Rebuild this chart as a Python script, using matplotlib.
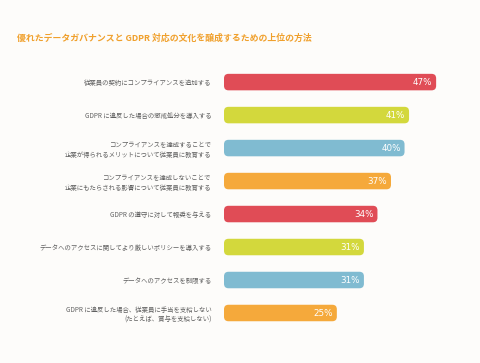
import matplotlib.pyplot as plt
from matplotlib.patches import FancyBboxPatch

plt.rcParams['font.family'] = ['Noto Sans CJK JP', 'DejaVu Sans']

title = "優れたデータガバナンスと GDPR 対応の文化を醸成するための上位の方法"

labels = [
    "従業員の契約にコンプライアンスを追加する",
    "GDPR に違反した場合の懲戒処分を導入する",
    "コンプライアンスを達成することで\n企業が得られるメリットについて従業員に教育する",
    "コンプライアンスを達成しないことで\n企業にもたらされる影響について従業員に教育する",
    "GDPR の遵守に対して報奨を与える",
    "データへのアクセスに関してより厳しいポリシーを導入する",
    "データへのアクセスを制限する",
    "GDPR に違反した場合、従業員に手当を支給しない\n(たとえば、賞与を支給しない)",
]
values = [47, 41, 40, 37, 34, 31, 31, 25]
colors = ["#e04c56", "#d3d83c", "#80bbd1", "#f5a93b"] * 2

fig = plt.figure(figsize=(4.81, 3.63), dpi=100)
fig.patch.set_facecolor("#fdfcfa")
ax = fig.add_axes([0.4657, 0.0923, 0.5114, 0.727])
ax.set_facecolor("#fdfcfa")

ypos = list(range(len(values)))
bars = ax.barh(ypos, values, height=0.5, color=colors)

# swap the plain bars for rounded ones
for b, c in zip(bars, colors):
    b.set_visible(False)
    x0, y0 = b.get_x(), b.get_y()
    w, h = b.get_width(), b.get_height()
    p = FancyBboxPatch((x0, y0), w, h,
                       boxstyle="round,pad=0,rounding_size=1.0",
                       mutation_aspect=0.137,
                       facecolor=c, edgecolor="none")
    ax.add_patch(p)
    ax.text(x0 + w - 0.8, y0 + h / 2, "{}%".format(int(w)), color="white",
            ha="right", va="center", fontsize=6.3, family="DejaVu Sans")

ax.set_xlim(0, 54.5)
ax.set_ylim(len(values) - 0.5, -0.5)
ax.set_yticks(ypos)
ax.set_yticklabels(labels, fontsize=4.6, color="#5f5f5f", linespacing=1.25,
                   ha="right")
ax.tick_params(axis="y", length=0, pad=9)
ax.set_xticks([])
for s in ax.spines.values():
    s.set_visible(False)

fig.text(0.035, 0.895, title, color="#f0a02c", fontsize=6.4, fontweight="bold",
         ha="left", va="center")

fig.savefig("out.png", dpi=100, facecolor=fig.get_facecolor())
